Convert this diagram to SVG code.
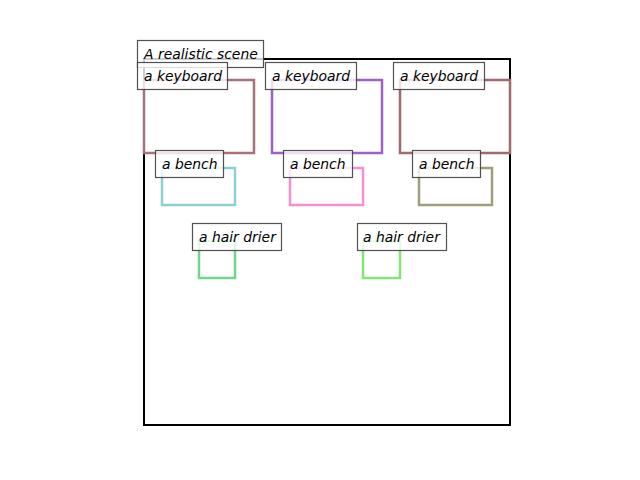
<svg xmlns="http://www.w3.org/2000/svg" width="640" height="480" viewBox="0 0 640 480">
<style>
.box{fill:none;stroke-width:2.5;stroke-linejoin:miter}
.lbl rect{fill:#ffffff;fill-opacity:0.8;stroke:#3f3f3f;stroke-opacity:0.9;stroke-width:1.2}
.lbl text{font-family:"DejaVu Sans",sans-serif;font-style:oblique;font-size:13.9px;fill:#000}
</style>
<rect x="0" y="0" width="640" height="480" fill="#ffffff"/>
<rect id="frame" x="144" y="59" width="366" height="366" fill="none" stroke="#000" stroke-width="2"/>
<g id="boxes">
<g id="keyboard1"><rect class="box" x="144" y="80" width="110" height="73" stroke="#a6737d"/></g>
<g id="keyboard2"><rect class="box" x="272" y="80" width="110" height="73" stroke="#9d62c4"/></g>
<g id="keyboard3"><rect class="box" x="400" y="80" width="110" height="73" stroke="#9e6a6e"/></g>
<g id="bench1"><rect class="box" x="162" y="168" width="73" height="37" stroke="#8ecfd2"/></g>
<g id="bench2"><rect class="box" x="290" y="168" width="73" height="37" stroke="#f48fd4"/></g>
<g id="bench3"><rect class="box" x="419" y="168" width="73" height="37" stroke="#9e9e7c"/></g>
<g id="hairdrier1"><rect class="box" x="199" y="241" width="36" height="37" stroke="#70d68c"/></g>
<g id="hairdrier2"><rect class="box" x="363" y="241" width="37" height="37" stroke="#84e474"/></g>
</g>
<g id="labels">
<g class="lbl" id="title"><rect x="137.5" y="40.5" width="126" height="27"/><text x="144" y="59">A realistic scene</text></g>
<g class="lbl" id="lbl-keyboard1"><rect x="137.5" y="62.5" width="90" height="27"/><text x="144" y="81">a keyboard</text></g>
<g class="lbl" id="lbl-keyboard2"><rect x="265.5" y="62.5" width="91" height="27"/><text x="272" y="81">a keyboard</text></g>
<g class="lbl" id="lbl-keyboard3"><rect x="393.5" y="62.5" width="91" height="27"/><text x="400" y="81">a keyboard</text></g>
<g class="lbl" id="lbl-bench1"><rect x="155.5" y="150.5" width="68" height="27"/><text x="162" y="169">a bench</text></g>
<g class="lbl" id="lbl-bench2"><rect x="283.5" y="150.5" width="69" height="27"/><text x="290" y="169">a bench</text></g>
<g class="lbl" id="lbl-bench3"><rect x="412.5" y="150.5" width="68" height="27"/><text x="419" y="169">a bench</text></g>
<g class="lbl" id="lbl-hairdrier1"><rect x="192.5" y="223.5" width="89" height="27"/><text x="199" y="242">a hair drier</text></g>
<g class="lbl" id="lbl-hairdrier2"><rect x="357.5" y="223.5" width="89" height="27"/><text x="363" y="242">a hair drier</text></g>
</g>
</svg>
